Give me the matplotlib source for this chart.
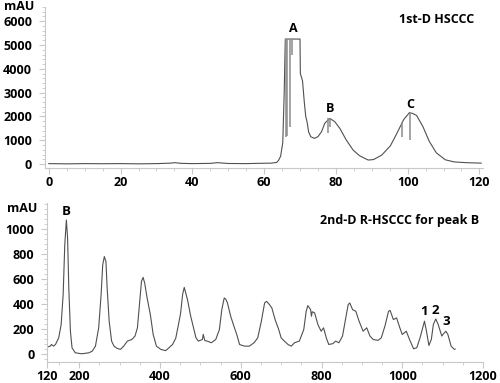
import matplotlib
matplotlib.use('Agg')
import matplotlib.pyplot as plt
from matplotlib.ticker import MultipleLocator

plt.rcParams['font.family'] = ['Open Sans', 'DejaVu Sans']
plt.rcParams['font.weight'] = 'bold'

# 1st-D HSCCC trace (time in min, mAU)
t1 = [0, 5, 10, 15, 20, 25, 30, 34, 35, 37, 40, 45, 47, 50, 55, 58, 62,
      63.5, 64.0, 64.6, 65.2, 65.6, 65.9, 70.0, 70.1, 70.7, 71.2, 71.6,
      72.0, 72.4, 73.0, 74.0, 75.0, 76.0, 76.9, 78.3, 79.7, 81.1, 82.9,
      84.8, 86.6, 89.0, 90.5, 92.8, 95.2, 97.0, 98.9, 100.5, 101.5, 102.5,
      104.3, 106.0, 108.0, 110.5, 113.0, 116.3, 120.5]
a1 = [20, 10, 20, 15, 20, 10, 20, 40, 60, 30, 20, 30, 60, 25, 20, 30, 40,
      70, 150, 330, 900, 3000, 5250, 5250, 3800, 3500, 2600, 2000,
      1750, 1350, 1150, 1080, 1150, 1360, 1710, 1920, 1780, 1500, 1010,
      590, 350, 170, 190, 380, 770, 1290, 1870, 2160, 2120, 2040,
      1560, 960, 470, 180, 90, 60, 40]

# detector spikes in 1st-D trace
spike_t = [66.0, 66.5, 67.1, 67.7, 77.8, 78.4, 98.4, 100.6]
spike_top = [5250, 5250, 5250, 5250, 1920, 1920, 1750, 2150]
spike_bot = [1130, 1200, 1570, 4600, 1300, 1560, 1150, 1010]

# 2nd-D R-HSCCC trace for peak B
t2 = [120, 128, 131, 136, 141, 149, 155, 160, 164, 168, 171, 174, 178, 182,
      190, 206, 224, 232, 240, 248, 254, 258, 262, 266, 269, 274, 280, 286,
      294, 302, 310, 319, 330, 338, 344, 349, 354, 358, 362, 368, 376, 383,
      391, 402, 414, 431, 439, 447, 451, 456, 460, 468, 476, 482, 489, 495,
      505, 507, 511, 517, 527, 538, 547, 553, 559, 563, 567, 575, 583, 590,
      597, 609, 621, 633, 642, 651, 659, 664, 671, 677, 685, 694, 700, 708,
      717, 725, 733, 745, 756, 762, 766, 773, 775, 777, 783, 791, 799, 805,
      812, 818, 828, 835, 843, 852, 860, 866, 870, 877, 885, 893, 903, 912,
      920, 928, 940, 948, 957, 966, 970, 978, 986, 994, 1000, 1010, 1018,
      1028, 1036, 1044, 1055, 1060, 1066, 1072, 1077, 1083, 1089, 1098,
      1101, 1108, 1113, 1121, 1129, 1131]
a2 = [58, 66, 79, 66, 79, 132, 238, 476, 873, 1071, 926, 529, 185, 53,
      13, 5, 13, 26, 66, 212, 476, 714, 780, 740, 529, 265, 106, 66,
      48, 40, 66, 106, 119, 146, 212, 397, 582, 614, 568, 450, 317, 159,
      66, 40, 30, 79, 130, 260, 330, 480, 534, 437, 304, 225, 132, 106,
      119, 160, 110, 106, 93, 119, 198, 357, 450, 440, 410, 304, 225, 159,
      79, 66, 66, 93, 132, 265, 410, 423, 397, 370, 278, 198, 132, 106,
      79, 66, 93, 106, 198, 344, 389, 357, 304, 340, 331, 238, 185, 212,
      130, 79, 86, 106, 93, 146, 291, 397, 410, 357, 344, 265, 185, 212,
      146, 119, 112, 132, 225, 344, 350, 278, 291, 212, 159, 185, 119,
      45, 53, 132, 265, 185, 71, 119, 238, 283, 238, 146,
      160, 185, 159, 66, 40, 42]

top_labels = ['A', 'B', 'C']
top_label_x = [68, 78.3, 100.8]
top_label_y = [5700, 2350, 2520]

bottom_labels = ['B', '1', '2', '3']
bottom_label_x = [168, 1053, 1083, 1110]
bottom_label_y = [1140, 340, 350, 262]

line_color = '#505050'
axis_color = '#c8c8c8'

fig = plt.figure(figsize=(5, 3.83), dpi=100)
ax1 = fig.add_axes([0.089, 0.561, 0.877, 0.421])
ax2 = fig.add_axes([0.094, 0.054, 0.872, 0.417])


def style_axis(ax):
    for side in ['top', 'right']:
        ax.spines[side].set_visible(False)
    for side in ['left', 'bottom']:
        ax.spines[side].set_color(axis_color)
        ax.spines[side].set_linewidth(0.8)
    ax.tick_params(which='both', color=axis_color, labelcolor='black',
                   labelsize=9, direction='out')
    ax.tick_params(which='major', length=4, width=0.8)
    ax.tick_params(which='minor', length=2, width=0.6)
    ax.tick_params(axis='y', pad=5)
    ax.tick_params(axis='x', pad=1.5)


# top panel
ax1.plot(t1, a1, color=line_color, lw=0.8)
ax1.vlines(spike_t, spike_bot, spike_top, color='#8c8c8c', lw=1.1)
ax1.set_xlim(-1.2, 121)
ax1.set_ylim(-170, 6600)
ax1.set_xticks([0, 20, 40, 60, 80, 100, 120])
ax1.set_yticks([0, 1000, 2000, 3000, 4000, 5000, 6000])
ax1.xaxis.set_minor_locator(MultipleLocator(5))
ax1.yaxis.set_minor_locator(MultipleLocator(200))
style_axis(ax1)
for lab, x, y in zip(top_labels, top_label_x, top_label_y):
    ax1.text(x, y, lab, ha='center', va='center', fontsize=9,
             fontweight='bold')
ax1.text(0.98, 0.96, '1st-D HSCCC', transform=ax1.transAxes, ha='right',
         va='top', fontsize=9, fontweight='bold')
fig.text(0.068, 0.982, 'mAU', ha='right', va='center', fontsize=9,
         fontweight='bold')

# bottom panel
ax2.plot(t2, a2, color=line_color, lw=0.8)
ax2.set_xlim(120, 1200)
ax2.set_ylim(-63, 1210)
ax2.set_xticks([120, 200, 400, 600, 800, 1000, 1200])
ax2.set_yticks([0, 200, 400, 600, 800, 1000])
ax2.xaxis.set_minor_locator(MultipleLocator(50))
ax2.yaxis.set_minor_locator(MultipleLocator(40))
style_axis(ax2)
for lab, x, y in zip(bottom_labels, bottom_label_x, bottom_label_y):
    ax2.text(x, y, lab, ha='center', va='center', fontsize=9.5,
             fontweight='bold')
ax2.text(0.99, 0.93, '2nd-D R-HSCCC for peak B', transform=ax2.transAxes,
         ha='right', va='top', fontsize=9, fontweight='bold')
fig.text(0.074, 0.455, 'mAU', ha='right', va='center', fontsize=9,
         fontweight='bold')

plt.savefig('out.png', dpi=100)
plt.close()
